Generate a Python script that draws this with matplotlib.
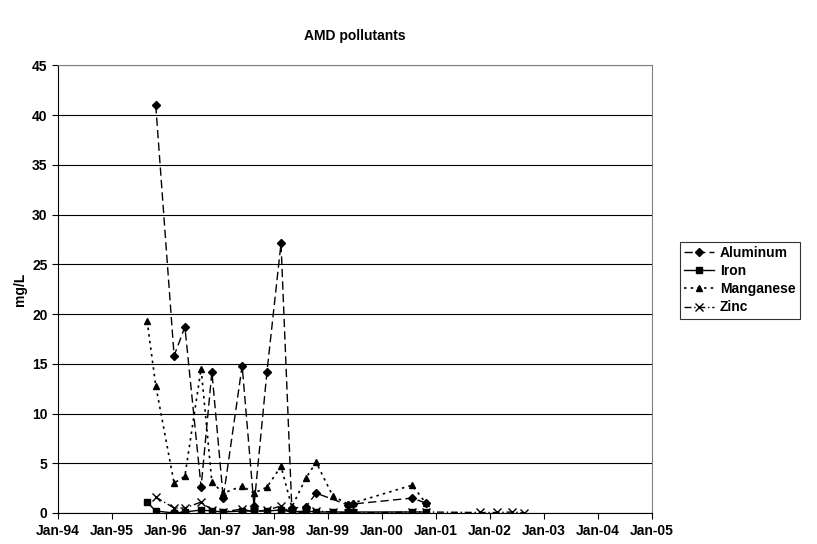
import matplotlib
matplotlib.use("Agg")
import matplotlib.pyplot as plt

plt.rcParams["font.family"] = ["Liberation Sans", "DejaVu Sans"]
plt.rcParams["font.weight"] = "bold"

dates = [1995.65, 1995.81, 1996.15, 1996.35, 1996.65, 1996.85, 1997.06, 1997.41,
         1997.63, 1997.87, 1998.13, 1998.33, 1998.59, 1998.78, 1999.09, 1999.37,
         1999.46, 2000.56, 2000.81]
late_dates = [2001.81, 2002.13, 2002.41, 2002.63]

al_dates = [d for d in dates if d not in (1995.65, 1999.09)]
aluminum = [41.0, 15.8, 18.7, 2.6, 14.2, 1.5, 14.8, 0.7, 14.2, 27.1, 0.5, 0.6,
            2.0, 0.8, 0.9, 1.5, 1.0]
iron = [1.1, 0.2, 0.0, 0.1, 0.3, 0.2, 0.1, 0.2, 0.2, 0.2, 0.3, 0.1, 0.2, 0.1,
        0.1, 0.1, 0.1, 0.1, 0.1]
manganese = [19.3, 12.8, 3.0, 3.7, 14.5, 3.1, 2.0, 2.7, 2.0, 2.6, 4.7, 0.6, 3.5,
             5.1, 1.7, 0.9, 1.0, 2.8, 1.0]
zn_dates = dates[1:] + late_dates
zinc = [1.6, 0.5, 0.5, 1.1, 0.3, 0.1, 0.4, 0.1, 0.3, 0.7, 0.0, 0.1, 0.2, 0.1,
        0.0, 0.0, 0.1, 0.1, 0.05, 0.05, 0.1, 0.0]

years = list(range(1994, 2006))
year_labels = [f"Jan-{y % 100:02d}" for y in years]

fig = plt.figure(figsize=(8.17, 5.44), dpi=100)
ax = fig.add_axes([0.071, 0.057, 0.727, 0.823])

ax.plot(al_dates, aluminum, color="black", ls=(0, (6, 3)), lw=1, marker="D", ms=4, label="Aluminum")
ax.plot(dates, iron, color="black", ls="-", lw=1, marker="s", ms=4.5, label="Iron")
ax.plot(dates, manganese, color="black", ls=(0, (1.5, 2.5)), lw=1.2, marker="^", ms=5, label="Manganese")
ax.plot(zn_dates, zinc, color="black", ls=(0, (5, 2, 1, 2)), lw=1, marker="x", ms=6, label="Zinc")

ax.set_xlim(1994, 2005)
ax.set_ylim(0, 45)
ax.set_xticks(years)
ax.set_xticklabels(year_labels, fontsize=10, fontweight="bold")
ax.set_yticks(range(0, 46, 5))
ax.tick_params(axis="y", labelsize=10, length=4)
ax.tick_params(axis="x", length=4, pad=4)
ax.yaxis.grid(True, color="black", lw=0.8)
ax.set_axisbelow(True)
for side in ["top", "right"]:
    ax.spines[side].set_color("#808080")
ax.set_ylabel("mg/L", fontsize=10, fontweight="bold")
ax.set_title("AMD pollutants", fontsize=10, fontweight="bold", pad=18)

leg = ax.legend(loc="center left", bbox_to_anchor=(1.035, 0.52), fontsize=10,
                frameon=True, fancybox=False, edgecolor="black", handlelength=2.2,
                handletextpad=0.4, borderpad=0.3, labelspacing=0.3)
leg.get_frame().set_linewidth(0.8)

fig.savefig("out.png", dpi=100)
